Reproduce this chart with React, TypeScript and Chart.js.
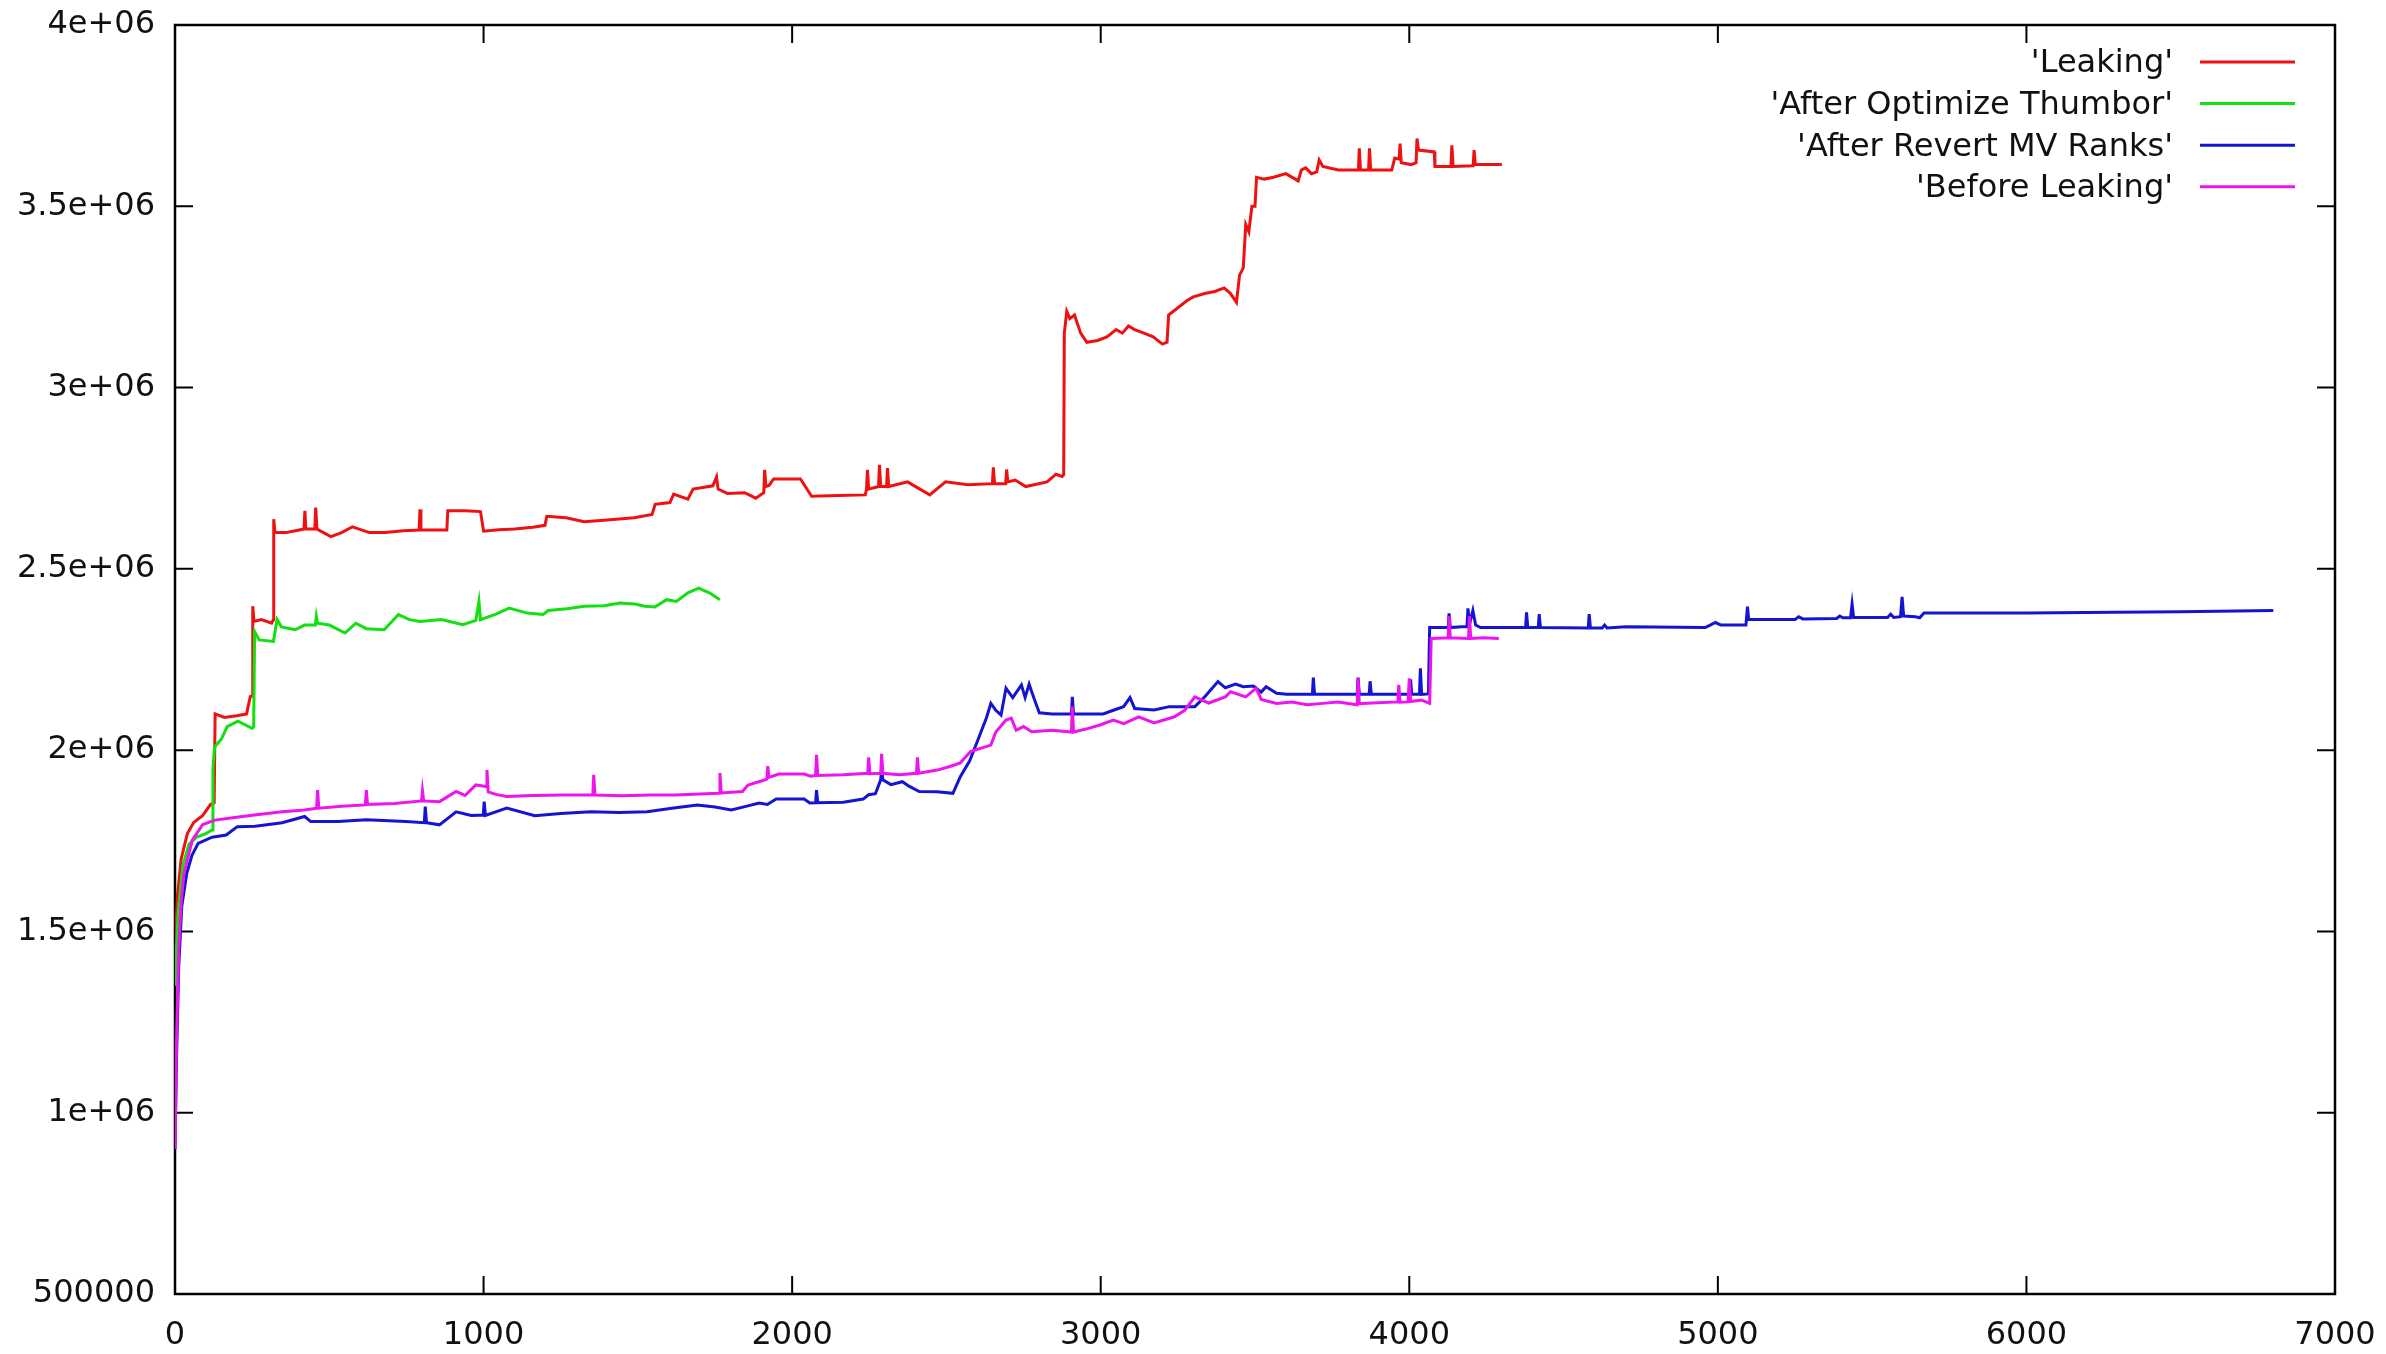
import { useEffect, useRef } from 'react';
import { Chart, registerables } from 'chart.js';

Chart.register(...registerables);

const FONT = "'DejaVu Sans', 'Liberation Sans', sans-serif";

// ---- Series: 'Leaking' (red)
const leakingX = [0, 8, 20, 40, 60, 90, 115, 127, 130, 160, 200, 232, 244, 250, 252, 256, 280, 313, 319, 320, 324, 360, 390, 418, 421, 424, 453, 456, 460, 505, 540, 575, 630, 680, 740, 791, 794, 797, 840, 881, 884, 940, 990, 1000, 1050, 1100, 1160, 1199, 1205, 1268, 1326, 1400, 1488, 1546, 1556, 1604, 1616, 1662, 1679, 1743, 1755, 1760, 1790, 1846, 1882, 1908, 1911, 1915, 1925, 1940, 2027, 2063, 2150, 2237, 2241, 2244, 2248, 2280, 2283, 2287, 2306, 2309, 2313, 2374, 2446, 2497, 2570, 2649, 2652, 2656, 2692, 2695, 2699, 2723, 2757, 2826, 2855, 2875, 2880, 2882, 2890, 2900, 2915, 2935, 2955, 2990, 3020, 3050, 3070, 3090, 3110, 3140, 3170, 3200, 3215, 3220, 3250, 3280, 3300, 3340, 3370, 3400, 3420, 3440, 3450, 3462, 3470, 3480, 3490, 3500, 3505, 3530, 3560, 3600, 3640, 3650, 3664, 3683, 3700, 3708, 3720, 3770, 3835, 3838, 3842, 3868, 3871, 3875, 3943, 3953, 3967, 3970, 3974, 4006, 4022, 4025, 4030, 4081, 4083, 4135, 4138, 4142, 4207, 4210, 4214, 4260, 4300];
const leakingY = [1450000, 1600000, 1700000, 1770000, 1800000, 1820000, 1850000, 1855000, 2100000, 2090000, 2095000, 2100000, 2148000, 2150000, 2397000, 2355000, 2360000, 2350000, 2360000, 2637000, 2600000, 2600000, 2605000, 2610000, 2660000, 2610000, 2610000, 2669000, 2610000, 2589000, 2600000, 2616000, 2600000, 2600000, 2605000, 2607000, 2664000, 2607000, 2607000, 2607000, 2660000, 2660000, 2658000, 2604000, 2608000, 2610000, 2615000, 2620000, 2645000, 2641000, 2630000, 2635000, 2641000, 2650000, 2678000, 2683000, 2706000, 2692000, 2720000, 2729000, 2754000, 2720000, 2708000, 2710000, 2695000, 2710000, 2773000, 2727000, 2730000, 2748000, 2748000, 2700000, 2702000, 2704000, 2720000, 2773000, 2720000, 2727000, 2787000, 2727000, 2727000, 2778000, 2727000, 2740000, 2704000, 2740000, 2732000, 2735000, 2780000, 2735000, 2735000, 2774000, 2740000, 2745000, 2727000, 2740000, 2761000, 2755000, 2760000, 3150000, 3210000, 3190000, 3200000, 3150000, 3125000, 3130000, 3140000, 3160000, 3150000, 3170000, 3160000, 3150000, 3140000, 3120000, 3125000, 3200000, 3220000, 3240000, 3250000, 3260000, 3265000, 3275000, 3260000, 3235000, 3310000, 3330000, 3450000, 3430000, 3500000, 3500000, 3580000, 3575000, 3580000, 3590000, 3570000, 3600000, 3606000, 3590000, 3595000, 3628000, 3610000, 3600000, 3600000, 3660000, 3600000, 3600000, 3660000, 3600000, 3600000, 3633000, 3630000, 3673000, 3620000, 3615000, 3620000, 3687000, 3655000, 3650000, 3610000, 3610000, 3668000, 3610000, 3612000, 3655000, 3615000, 3615000, 3615000];

// ---- Series: 'After Optimize Thumbor' (green)
const thumborX = [0, 10, 25, 45, 70, 100, 120, 123, 128, 150, 169, 204, 250, 255, 258, 273, 319, 331, 345, 389, 420, 455, 458, 462, 500, 551, 586, 620, 678, 724, 760, 794, 864, 933, 975, 985, 990, 1040, 1083, 1141, 1193, 1210, 1270, 1326, 1390, 1442, 1490, 1523, 1555, 1593, 1625, 1662, 1697, 1715, 1732, 1766];
const thumborY = [1350000, 1550000, 1680000, 1740000, 1760000, 1770000, 1780000, 1950000, 2009000, 2030000, 2065000, 2080000, 2060000, 2065000, 2327000, 2304000, 2300000, 2360000, 2340000, 2332000, 2345000, 2345000, 2369000, 2350000, 2345000, 2323000, 2350000, 2335000, 2332000, 2374000, 2360000, 2355000, 2360000, 2346000, 2358000, 2410000, 2360000, 2375000, 2392000, 2378000, 2374000, 2385000, 2390000, 2397000, 2398000, 2406000, 2403000, 2397000, 2395000, 2415000, 2410000, 2434000, 2447000, 2440000, 2434000, 2415000];

// ---- Series: 'After Revert MV Ranks' (blue)
const revertX = [0, 5, 12, 22, 38, 55, 75, 120, 166, 202, 260, 347, 420, 440, 529, 620, 748, 808, 811, 815, 857, 911, 960, 999, 1002, 1006, 1075, 1166, 1250, 1348, 1440, 1530, 1610, 1693, 1750, 1803, 1850, 1893, 1920, 1948, 2039, 2057, 2076, 2079, 2083, 2166, 2230, 2248, 2270, 2287, 2290, 2294, 2320, 2357, 2380, 2412, 2470, 2521, 2545, 2575, 2602, 2630, 2644, 2660, 2677, 2693, 2715, 2743, 2755, 2768, 2785, 2801, 2842, 2905, 2908, 2912, 3008, 3041, 3074, 3095, 3110, 3173, 3222, 3305, 3338, 3380, 3404, 3437, 3462, 3495, 3520, 3536, 3570, 3603, 3686, 3689, 3693, 3831, 3834, 3838, 3870, 3873, 3877, 4001, 4004, 4008, 4033, 4036, 4040, 4062, 4066, 4126, 4129, 4133, 4170, 4187, 4190, 4196, 4206, 4215, 4231, 4377, 4380, 4384, 4418, 4421, 4425, 4580, 4583, 4587, 4625, 4633, 4641, 4702, 4959, 4975, 4992, 5010, 5091, 5096, 5100, 5250, 5262, 5275, 5385, 5395, 5405, 5430, 5435, 5440, 5550, 5560, 5570, 5592, 5597, 5602, 5640, 5654, 5668, 6000, 6287, 6500, 6800];
const revertY = [900000, 1150000, 1400000, 1570000, 1660000, 1710000, 1743000, 1760000, 1766000, 1789000, 1790000, 1800000, 1817000, 1803000, 1803000, 1808000, 1803000, 1800000, 1844000, 1800000, 1794000, 1830000, 1820000, 1821000, 1858000, 1820000, 1840000, 1819000, 1825000, 1830000, 1828000, 1830000, 1840000, 1849000, 1843000, 1835000, 1845000, 1854000, 1850000, 1865000, 1865000, 1854000, 1855000, 1890000, 1855000, 1856000, 1865000, 1877000, 1880000, 1918000, 1950000, 1918000, 1905000, 1913000, 1900000, 1886000, 1885000, 1881000, 1927000, 1970000, 2028000, 2090000, 2129000, 2110000, 2097000, 2171000, 2145000, 2180000, 2145000, 2182000, 2140000, 2103000, 2100000, 2100000, 2147000, 2100000, 2100000, 2110000, 2120000, 2145000, 2115000, 2111000, 2120000, 2120000, 2148000, 2189000, 2172000, 2182000, 2175000, 2177000, 2160000, 2175000, 2157000, 2154000, 2154000, 2200000, 2154000, 2154000, 2200000, 2154000, 2154000, 2190000, 2154000, 2154000, 2195000, 2154000, 2154000, 2226000, 2154000, 2155000, 2338000, 2338000, 2377000, 2338000, 2340000, 2340000, 2391000, 2350000, 2385000, 2345000, 2338000, 2338000, 2380000, 2338000, 2338000, 2375000, 2338000, 2337000, 2375000, 2337000, 2337000, 2345000, 2337000, 2340000, 2338000, 2345000, 2352000, 2345000, 2345000, 2396000, 2360000, 2360000, 2368000, 2362000, 2363000, 2370000, 2365000, 2365000, 2403000, 2366000, 2366000, 2375000, 2366000, 2368000, 2423000, 2370000, 2368000, 2365000, 2378000, 2378000, 2380000, 2382000, 2385000];

// ---- Series: 'Before Leaking' (magenta)
const beforeX = [0, 5, 12, 20, 29, 56, 90, 129, 200, 257, 347, 420, 459, 462, 466, 540, 617, 620, 624, 711, 799, 802, 806, 857, 911, 940, 975, 1008, 1011, 1015, 1040, 1075, 1160, 1257, 1354, 1357, 1361, 1450, 1540, 1620, 1763, 1766, 1770, 1839, 1857, 1900, 1918, 1921, 1925, 1957, 2039, 2060, 2076, 2079, 2083, 2166, 2245, 2248, 2252, 2287, 2290, 2294, 2348, 2403, 2406, 2410, 2470, 2511, 2545, 2578, 2644, 2660, 2693, 2710, 2726, 2750, 2776, 2842, 2905, 2908, 2912, 2960, 3000, 3041, 3075, 3123, 3173, 3239, 3272, 3305, 3350, 3404, 3421, 3470, 3504, 3520, 3570, 3620, 3669, 3720, 3768, 3831, 3834, 3838, 3880, 3963, 3966, 3970, 3996, 4000, 4004, 4040, 4066, 4071, 4126, 4129, 4133, 4192, 4195, 4199, 4240, 4290];
const beforeY = [900000, 1200000, 1450000, 1580000, 1660000, 1752000, 1795000, 1807000, 1815000, 1821000, 1830000, 1835000, 1840000, 1890000, 1840000, 1845000, 1849000, 1890000, 1850000, 1853000, 1860000, 1888000, 1860000, 1858000, 1886000, 1875000, 1904000, 1900000, 1945000, 1885000, 1878000, 1872000, 1875000, 1876000, 1876000, 1932000, 1876000, 1874000, 1876000, 1876000, 1881000, 1937000, 1882000, 1886000, 1904000, 1915000, 1920000, 1956000, 1925000, 1934000, 1934000, 1928000, 1930000, 1987000, 1930000, 1932000, 1936000, 1980000, 1935000, 1936000, 1990000, 1936000, 1932000, 1936000, 1980000, 1936000, 1945000, 1955000, 1965000, 1996000, 2014000, 2050000, 2083000, 2088000, 2055000, 2065000, 2051000, 2055000, 2050000, 2120000, 2050000, 2060000, 2070000, 2083000, 2073000, 2092000, 2075000, 2092000, 2110000, 2147000, 2130000, 2147000, 2161000, 2147000, 2171000, 2140000, 2129000, 2133000, 2125000, 2129000, 2133000, 2125000, 2198000, 2128000, 2130000, 2133000, 2180000, 2132000, 2133000, 2198000, 2134000, 2138000, 2129000, 2308000, 2310000, 2370000, 2310000, 2308000, 2370000, 2308000, 2310000, 2308000];

const seriesLabels = ["'Leaking'", "'After Optimize Thumbor'", "'After Revert MV Ranks'", "'Before Leaking'"];
const seriesColors = ['#ee1111', '#11e011', '#1414d2', '#ee14ee'];

const xTickValues = [0, 1000, 2000, 3000, 4000, 5000, 6000, 7000];
const yTickValues = [500000, 1000000, 1500000, 2000000, 2500000, 3000000, 3500000, 4000000];
const yTickLabels = ['500000', '1e+06', '1.5e+06', '2e+06', '2.5e+06', '3e+06', '3.5e+06', '4e+06'];

function toPoints(xs: number[], ys: number[]) {
  return xs.map((x, i) => ({ x, y: ys[i] }));
}

const framePlugin = {
  id: 'gnuFrame',
  beforeDatasetsDraw(chart: any) {
    const { ctx, chartArea: a, scales } = chart;
    const xs = scales.x;
    const ys = scales.y;
    const L = 18;
    ctx.save();
    ctx.strokeStyle = '#000';
    ctx.lineWidth = 2.5;
    ctx.strokeRect(a.left, a.top, a.right - a.left, a.bottom - a.top);
    ctx.lineWidth = 2;
    ctx.beginPath();
    xs.ticks.forEach((t: any) => {
      const px = xs.getPixelForValue(t.value);
      ctx.moveTo(px, a.bottom);
      ctx.lineTo(px, a.bottom - L);
      ctx.moveTo(px, a.top);
      ctx.lineTo(px, a.top + L);
    });
    ys.ticks.forEach((t: any) => {
      const py = ys.getPixelForValue(t.value);
      ctx.moveTo(a.left, py);
      ctx.lineTo(a.left + L, py);
      ctx.moveTo(a.right, py);
      ctx.lineTo(a.right - L, py);
    });
    ctx.stroke();
    ctx.restore();
  },
};

const legendPlugin = {
  id: 'gnuLegend',
  afterDraw(chart: any) {
    const { ctx, chartArea: a } = chart;
    ctx.save();
    ctx.font = `32px ${FONT}`;
    ctx.textAlign = 'right';
    ctx.textBaseline = 'middle';
    chart.data.datasets.forEach((ds: any, i: number) => {
      const yy = a.top + 37 + i * 41.6;
      ctx.fillStyle = '#111';
      ctx.fillText(ds.label, a.right - 162, yy + 2);
      ctx.strokeStyle = ds.borderColor;
      ctx.lineWidth = 3;
      ctx.beginPath();
      ctx.moveTo(a.right - 135, yy);
      ctx.lineTo(a.right - 40, yy);
      ctx.stroke();
    });
    ctx.restore();
  },
};

export default function App() {
  const ref = useRef<HTMLCanvasElement | null>(null);

  useEffect(() => {
    if (!ref.current) return;
    const xsArr = [leakingX, thumborX, revertX, beforeX];
    const ysArr = [leakingY, thumborY, revertY, beforeY];
    const chart = new Chart(ref.current, {
      type: 'line',
      data: {
        datasets: seriesLabels.map((label, i) => ({
          label,
          data: toPoints(xsArr[i], ysArr[i]),
          borderColor: seriesColors[i],
          backgroundColor: seriesColors[i],
          borderWidth: 3,
          pointRadius: 0,
          tension: 0,
          fill: false,
          order: 4 - i,
        })),
      },
      options: {
        animation: false,
        responsive: true,
        maintainAspectRatio: false,
        events: [],
        layout: { padding: { left: 0, right: 51, top: 25, bottom: 0 } },
        plugins: {
          legend: { display: false },
          tooltip: { enabled: false },
        },
        scales: {
          x: {
            type: 'linear',
            min: 0,
            max: 7000,
            afterFit: (s: any) => {
              s.height = 60;
              s.paddingLeft = 0;
              s.paddingRight = 0;
            },
            afterBuildTicks: (s: any) => {
              s.ticks = xTickValues.map((v) => ({ value: v }));
            },
            grid: { display: false, drawTicks: false },
            border: { display: false },
            ticks: {
              padding: 22,
              color: '#111',
              font: { family: FONT, size: 32 },
              maxRotation: 0,
              autoSkip: false,
              callback: (v: any) => String(v),
            },
          },
          y: {
            type: 'linear',
            min: 500000,
            max: 4000000,
            afterFit: (s: any) => {
              s.width = 175;
              s.paddingTop = 0;
              s.paddingBottom = 0;
            },
            afterBuildTicks: (s: any) => {
              s.ticks = yTickValues.map((v) => ({ value: v }));
            },
            grid: { display: false, drawTicks: false },
            border: { display: false },
            ticks: {
              padding: 20,
              color: '#111',
              font: { family: FONT, size: 32 },
              autoSkip: false,
              callback: (v: any) => {
                const idx = yTickValues.indexOf(Number(v));
                return idx >= 0 ? yTickLabels[idx] : '';
              },
            },
          },
        },
      },
      plugins: [framePlugin, legendPlugin],
    } as any);
    return () => chart.destroy();
  }, []);

  return (
    <div style={{ position: 'absolute', left: 0, top: 0, width: 2386, height: 1354, background: '#fff' }}>
      <canvas ref={ref} />
    </div>
  );
}
